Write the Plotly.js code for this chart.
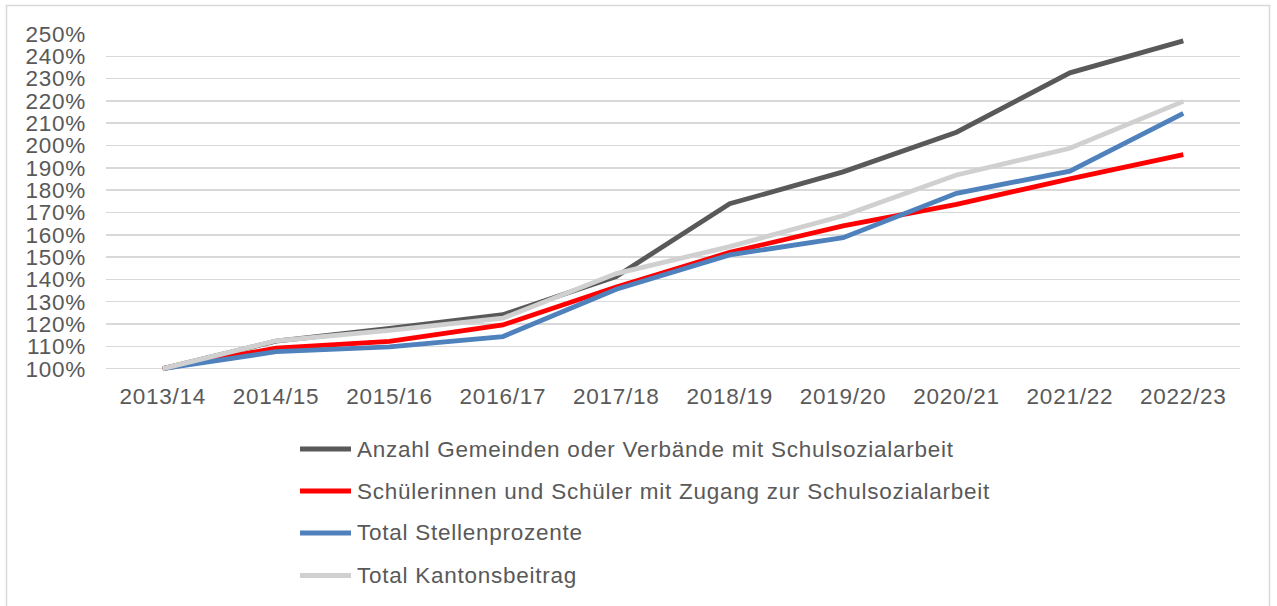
<!DOCTYPE html>
<html>
<head>
<meta charset="utf-8">
<script src="https://cdn.plot.ly/plotly-3.0.1.min.js"></script>
<style>
html,body{margin:0;padding:0;background:#fff;}
#chart{width:1277px;height:606px;}
#chart svg text{letter-spacing:0.75px;}
</style>
</head>
<body>
<div id="chart"></div>
<script>
// ---- data ----
const years = ["2013/14","2014/15","2015/16","2016/17","2017/18","2018/19","2019/20","2020/21","2021/22","2022/23"];
const seriesNames = [
  "Anzahl Gemeinden oder Verbände mit Schulsozialarbeit",
  "Schülerinnen und Schüler mit Zugang zur Schulsozialarbeit",
  "Total Stellenprozente",
  "Total Kantonsbeitrag"
];
const gemeinden = [100, 112.3, 118, 124.2, 141.3, 173.9, 188.2, 206, 232.6, 246.9];
const schueler  = [100, 109.2, 112.2, 119.6, 136.6, 152.1, 164, 173.6, 185.1, 195.9];
const stellen   = [100, 107.6, 109.8, 114.4, 135.6, 151, 158.7, 178.6, 188.5, 214.4];
const kanton    = [100, 112.5, 117.2, 122.6, 142.6, 154.7, 168.5, 186.8, 198.8, 219.8];
const yTicks = [100,110,120,130,140,150,160,170,180,190,200,210,220,230,240,250];

// ---- styling ----
const colors = ["#595959", "#ff0000", "#4f81bd", "#d0d0d0"];
const values = [gemeinden, schueler, stellen, kanton];
const font = {family: "'Liberation Sans', Arial, sans-serif", size: 22.5, color: "#595959"};

// pixel geometry of plot area
const L = 106, R = 1240, T = 34, yMin = 98.5, yMax = 250;
const pxPerUnit = (369 - T) / (yMax - 100);
const B = T + (yMax - yMin) * pxPerUnit;
const W = R - L, H = B - T;
const xp = px => (px - L) / W;
const yp = py => (B - py) / H;

const traces = values.map((v, i) => ({
  x: years, y: v, type: "scatter", mode: "lines",
  name: seriesNames[i], showlegend: false,
  line: {color: colors[i], width: 4.8, shape: "linear"},
  hoverinfo: "x+y"
}));

const shapes = [{
  type: "rect", xref: "paper", yref: "paper",
  x0: xp(6.5), x1: xp(1269.5), y0: yp(612), y1: yp(5.5),
  line: {color: "#d9d9d9", width: 1.5}, fillcolor: "rgba(0,0,0,0)", layer: "below"
}];
const annotations = [];
const legendY = [449.5, 491.5, 533.5, 576];
seriesNames.forEach((n, i) => {
  shapes.push({
    type: "line", xref: "paper", yref: "paper",
    x0: xp(300), x1: xp(351), y0: yp(legendY[i]), y1: yp(legendY[i]),
    line: {color: colors[i], width: 5}
  });
  annotations.push({
    xref: "paper", yref: "paper", x: xp(355), y: yp(legendY[i]),
    xanchor: "left", yanchor: "middle", align: "left", showarrow: false,
    text: n, font: font
  });
});

const layout = {
  width: 1277, height: 606,
  margin: {l: L, r: 1277 - R, t: T, b: 606 - B, pad: 0},
  paper_bgcolor: "#ffffff", plot_bgcolor: "#ffffff",
  font: font,
  showlegend: false,
  xaxis: {
    type: "category", range: [-0.5, 9.5], showgrid: false, zeroline: false,
    showline: false, ticks: "", tickfont: font, ticklabelstandoff: 8, fixedrange: true
  },
  yaxis: {
    range: [yMin, yMax], tickvals: yTicks, ticktext: yTicks.map(v => v + "%"),
    showgrid: true, gridcolor: "#d9d9d9", gridwidth: 1.5, zeroline: false,
    showline: false, ticks: "", tickfont: font, ticklabelstandoff: 19, fixedrange: true
  },
  shapes: shapes,
  annotations: annotations
};

Plotly.newPlot("chart", traces, layout, {displayModeBar: false, staticPlot: true});
</script>
</body>
</html>
